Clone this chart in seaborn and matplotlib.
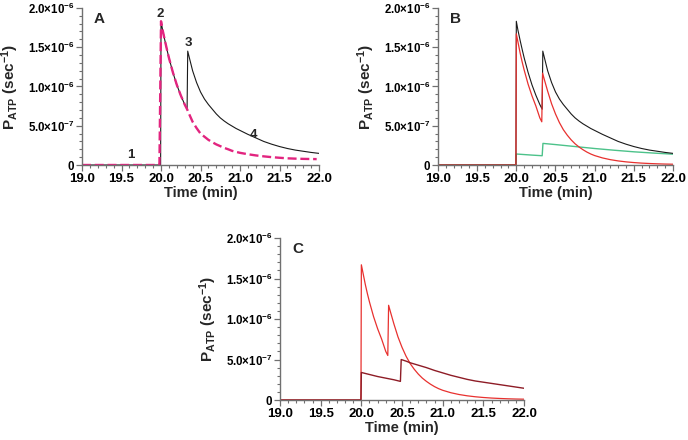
import numpy as np
import pandas as pd
import matplotlib
matplotlib.use("Agg")
import matplotlib.pyplot as plt
import seaborn as sns
from matplotlib.ticker import MultipleLocator, FixedLocator, FixedFormatter

sns.set_theme(style="ticks")
plt.rcParams['font.family'] = ['Liberation Sans', 'DejaVu Sans']
plt.rcParams['font.weight'] = 'bold'
plt.rcParams['mathtext.fontset'] = 'custom'
plt.rcParams['mathtext.rm'] = 'Liberation Sans:bold'
plt.rcParams['mathtext.bf'] = 'Liberation Sans:bold'
plt.rcParams['mathtext.it'] = 'Liberation Sans:bold'

SCALE = 1e-6

# ---- Data (values in units of 1e-6 sec^-1) ----
# Total (black) curve, panels A and B
t_total = [19.0, 19.995, 20.0, 20.02, 20.05, 20.075, 20.1, 20.15, 20.2, 20.25, 20.3, 20.33,
           20.338, 20.36, 20.38, 20.4, 20.45, 20.5, 20.55, 20.6, 20.65, 20.7, 20.75, 20.8,
           20.85, 20.9, 20.95, 21.0, 21.1, 21.2, 21.3, 21.4, 21.5, 21.6, 21.7, 21.8, 21.9, 22.0]
p_total = [0.0, 0.0, 1.83, 1.72, 1.58, 1.47, 1.365, 1.18, 1.02, 0.887, 0.77, 0.71,
           1.45, 1.36, 1.28, 1.20, 1.05, 0.93, 0.84, 0.77, 0.71, 0.65, 0.60, 0.56,
           0.525, 0.495, 0.465, 0.44, 0.39, 0.345, 0.30, 0.265, 0.235, 0.21, 0.19, 0.175, 0.16, 0.148]

# Single-stimulus (dashed magenta) curve, panel A
t_single = [19.0, 19.98, 20.0, 20.02, 20.05, 20.075, 20.1, 20.15, 20.2, 20.25, 20.3, 20.33,
            20.36, 20.4, 20.45, 20.5, 20.55, 20.6, 20.65, 20.7, 20.75, 20.8, 20.85, 20.9,
            20.95, 21.0, 21.1, 21.2, 21.3, 21.4, 21.5, 21.6, 21.7, 21.8, 21.97]
p_single = [0.0, 0.0, 1.83, 1.72, 1.58, 1.47, 1.365, 1.18, 1.02, 0.887, 0.77, 0.71,
            0.64, 0.55, 0.47, 0.40, 0.36, 0.32, 0.29, 0.262, 0.24, 0.218, 0.20, 0.18,
            0.167, 0.155, 0.137, 0.122, 0.11, 0.10, 0.092, 0.085, 0.081, 0.078, 0.075]

# Fast component (red), panels B and C
t_fast = [19.0, 19.995, 20.0, 20.02, 20.05, 20.075, 20.1, 20.15, 20.2, 20.25, 20.3, 20.325,
          20.335, 20.36, 20.38, 20.4, 20.45, 20.5, 20.55, 20.6, 20.65, 20.7, 20.75, 20.8,
          20.85, 20.9, 20.95, 21.0, 21.1, 21.2, 21.3, 21.4, 21.5, 21.6, 21.7, 21.8, 21.9, 22.0]
p_fast = [0.0, 0.0, 1.67, 1.57, 1.42, 1.31, 1.21, 1.03, 0.88, 0.75, 0.60, 0.55,
          1.17, 1.08, 1.01, 0.94, 0.78, 0.65, 0.54, 0.45, 0.38, 0.32, 0.27, 0.23,
          0.195, 0.165, 0.14, 0.12, 0.09, 0.068, 0.052, 0.04, 0.031, 0.024, 0.019, 0.015, 0.012, 0.01]

# Slow component (green), panel B
t_slow = [19.0, 19.995, 20.0, 20.1, 20.2, 20.33, 20.34, 20.5, 20.75, 21.0, 21.25, 21.5, 21.75, 22.0]
p_slow = [0.0, 0.0, 0.14, 0.133, 0.126, 0.118, 0.275, 0.26, 0.235, 0.21, 0.188, 0.168, 0.152, 0.138]

# Slow component with delayed second stimulus (dark red), panel C
t_delay = [19.0, 19.995, 20.0, 20.1, 20.2, 20.3, 20.4, 20.48, 20.49, 20.55, 20.6, 20.7, 20.8,
           20.9, 21.0, 21.1, 21.2, 21.3, 21.4, 21.5, 21.6, 21.7, 21.8, 21.9, 22.0]
p_delay = [0.0, 0.0, 0.34, 0.315, 0.29, 0.27, 0.25, 0.23, 0.50, 0.48, 0.46, 0.43, 0.40,
           0.365, 0.335, 0.305, 0.28, 0.255, 0.235, 0.22, 0.205, 0.19, 0.175, 0.16, 0.145]

y_ticks = [0, 5e-7, 1e-6, 1.5e-6, 2e-6]
y_labels = ['0', r'$\mathbf{5.0{\times}10^{-7}}$', r'$\mathbf{1.0{\times}10^{-6}}$',
            r'$\mathbf{1.5{\times}10^{-6}}$', r'$\mathbf{2.0{\times}10^{-6}}$']
x_ticks = [19.0, 19.5, 20.0, 20.5, 21.0, 21.5, 22.0]
x_labels = ['19.0', '19.5', '20.0', '20.5', '21.0', '21.5', '22.0']

BLACK = '#1a1a1a'
MAGENTA = '#e2247f'
RED = '#e8312f'
GREEN = '#4cc28a'
DARKRED = '#8e1c26'
AXCOL = '#707070'


def curve(ax, t, p, color, lw, ls='-'):
    df = pd.DataFrame({'t': t, 'p': np.asarray(p) * SCALE})
    sns.lineplot(data=df, x='t', y='p', ax=ax, color=color, linewidth=lw,
                 linestyle=ls, estimator=None, sort=False)


def style(ax, letter):
    ax.set_xlim(19.0, 22.0)
    ax.set_ylim(0, 2.0e-6)
    ax.xaxis.set_major_locator(FixedLocator(x_ticks))
    ax.xaxis.set_major_formatter(FixedFormatter(x_labels))
    ax.xaxis.set_minor_locator(MultipleLocator(0.1))
    ax.yaxis.set_major_locator(FixedLocator(y_ticks))
    ax.yaxis.set_major_formatter(FixedFormatter(y_labels))
    ax.yaxis.set_minor_locator(MultipleLocator(1e-7))
    sns.despine(ax=ax)
    for s in ['left', 'bottom']:
        ax.spines[s].set_color(AXCOL)
        ax.spines[s].set_linewidth(1.0)
    ax.tick_params(which='major', direction='out', length=4, width=0.9, color=AXCOL,
                   labelcolor='black', pad=1.5)
    ax.tick_params(axis='x', which='major', labelsize=9.5)
    ax.tick_params(axis='y', which='major', labelsize=8.3)
    ax.tick_params(which='minor', direction='out', length=2.5, width=0.8, color=AXCOL)
    for lab in ax.get_xticklabels() + ax.get_yticklabels():
        lab.set_fontweight('bold')
    ax.set_xlabel('Time (min)', fontsize=10.5, fontweight='bold', labelpad=1)
    ax.set_ylabel(r'$\mathbf{P_{ATP}\ (sec^{-1})}$', fontsize=11, labelpad=5)
    ax.text(0.05, 0.93, letter, transform=ax.transAxes, fontsize=11,
            fontweight='bold', ha='left', va='center')
    ax.set_facecolor('white')


fig = plt.figure(figsize=(6.88, 4.40), dpi=100)
fig.patch.set_facecolor('white')
axA = fig.add_axes([0.1192, 0.625, 0.3445, 0.357])
axB = fig.add_axes([0.6366, 0.625, 0.3416, 0.357])
axC = fig.add_axes([0.4070, 0.0909, 0.3547, 0.368])

# Panel A
curve(axA, t_total, p_total, BLACK, 0.8)
curve(axA, t_single, p_single, MAGENTA, 1.7, (0, (3.8, 1.6)))
style(axA, 'A')
for lbl, tx, ty in [('1', 19.62, 0.13e-6), ('2', 19.99, 1.92e-6),
                    ('3', 20.35, 1.55e-6), ('4', 21.17, 0.38e-6)]:
    axA.text(tx, ty, lbl, fontsize=9.5, fontweight='bold', ha='center', va='center')

# Panel B
curve(axB, t_slow, p_slow, GREEN, 1.0)
curve(axB, t_total, p_total, BLACK, 0.8)
curve(axB, t_fast, p_fast, RED, 0.9)
style(axB, 'B')

# Panel C
curve(axC, t_fast, p_fast, RED, 0.9)
curve(axC, t_delay, p_delay, DARKRED, 1.0)
style(axC, 'C')

fig.savefig('out.png', dpi=100, facecolor='white')
